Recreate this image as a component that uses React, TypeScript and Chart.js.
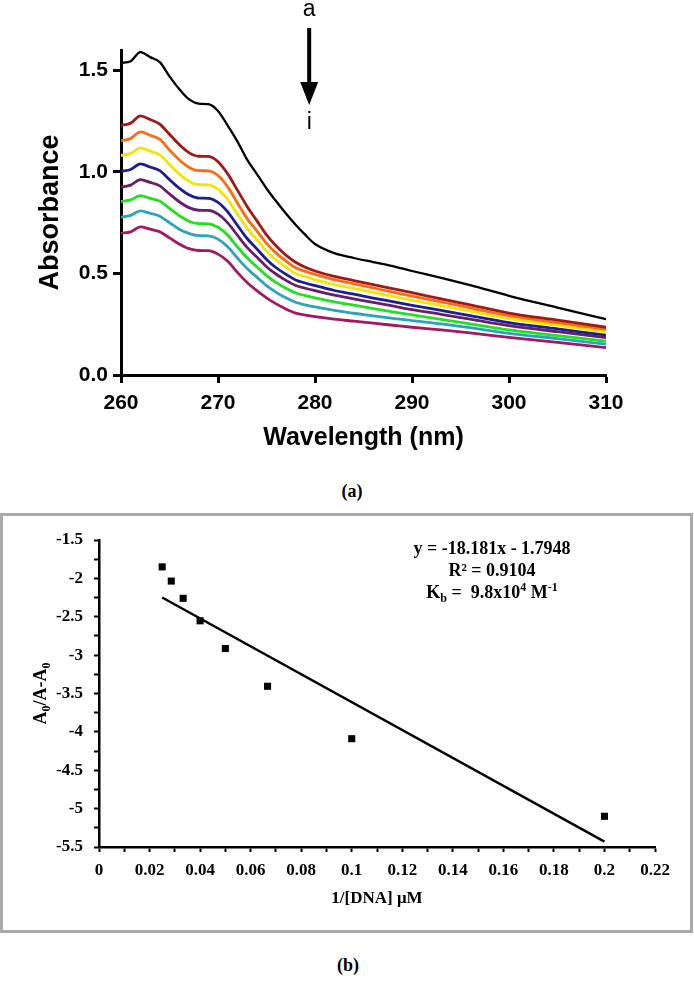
import React, { useEffect, useRef } from "react";
import { Chart, registerables } from "chart.js";
Chart.register(...registerables);

// ---------- Panel (a): UV-Vis spectra ----------
const wavelengths = [260, 261, 262, 263, 264, 265, 266, 267, 268, 269, 270, 271, 272, 273, 274, 275, 276, 277, 278, 279, 280, 282, 284, 286, 288, 290, 293, 296, 300, 305, 310];

const absA = [1.536, 1.545, 1.590, 1.565, 1.540, 1.470, 1.408, 1.358, 1.336, 1.333, 1.300, 1.228, 1.150, 1.060, 0.990, 0.918, 0.855, 0.795, 0.740, 0.690, 0.645, 0.600, 0.576, 0.556, 0.536, 0.512, 0.478, 0.442, 0.390, 0.332, 0.275];
const absB = [1.228, 1.240, 1.276, 1.258, 1.235, 1.185, 1.135, 1.095, 1.077, 1.076, 1.050, 0.990, 0.910, 0.830, 0.760, 0.690, 0.635, 0.590, 0.555, 0.530, 0.512, 0.485, 0.465, 0.445, 0.425, 0.405, 0.375, 0.345, 0.305, 0.270, 0.235];
const absC = [1.153, 1.165, 1.197, 1.180, 1.160, 1.108, 1.060, 1.023, 1.006, 1.005, 0.982, 0.926, 0.847, 0.770, 0.709, 0.648, 0.600, 0.561, 0.528, 0.510, 0.495, 0.469, 0.449, 0.429, 0.408, 0.388, 0.360, 0.331, 0.292, 0.258, 0.225];
const absD = [1.080, 1.091, 1.118, 1.102, 1.084, 1.036, 0.990, 0.954, 0.937, 0.936, 0.914, 0.864, 0.792, 0.722, 0.666, 0.610, 0.566, 0.531, 0.500, 0.484, 0.470, 0.445, 0.426, 0.407, 0.387, 0.368, 0.341, 0.314, 0.277, 0.244, 0.212];
const absE = [1.002, 1.012, 1.039, 1.024, 1.006, 0.962, 0.920, 0.887, 0.871, 0.870, 0.850, 0.803, 0.737, 0.672, 0.621, 0.569, 0.528, 0.496, 0.468, 0.453, 0.440, 0.416, 0.398, 0.379, 0.361, 0.343, 0.318, 0.292, 0.258, 0.227, 0.196];
const absF = [0.925, 0.935, 0.962, 0.948, 0.931, 0.891, 0.853, 0.824, 0.811, 0.810, 0.792, 0.749, 0.688, 0.628, 0.581, 0.533, 0.496, 0.466, 0.441, 0.427, 0.415, 0.393, 0.375, 0.357, 0.340, 0.322, 0.299, 0.275, 0.243, 0.213, 0.184];
const absG = [0.854, 0.862, 0.883, 0.870, 0.856, 0.820, 0.785, 0.757, 0.745, 0.744, 0.727, 0.688, 0.631, 0.577, 0.533, 0.489, 0.455, 0.427, 0.404, 0.391, 0.380, 0.360, 0.344, 0.327, 0.311, 0.296, 0.274, 0.252, 0.222, 0.194, 0.166];
const absH = [0.777, 0.786, 0.808, 0.796, 0.782, 0.750, 0.718, 0.697, 0.686, 0.685, 0.669, 0.631, 0.576, 0.524, 0.482, 0.440, 0.407, 0.380, 0.358, 0.345, 0.335, 0.318, 0.304, 0.291, 0.279, 0.268, 0.252, 0.233, 0.205, 0.179, 0.152];
const absI = [0.698, 0.705, 0.729, 0.718, 0.705, 0.675, 0.645, 0.622, 0.613, 0.612, 0.595, 0.560, 0.505, 0.455, 0.415, 0.380, 0.350, 0.325, 0.305, 0.295, 0.287, 0.275, 0.265, 0.255, 0.245, 0.235, 0.222, 0.207, 0.185, 0.161, 0.135];

const seriesLabelsA = ["a", "b", "c", "d", "e", "f", "g", "h", "i"];
const seriesValuesA = [absA, absB, absC, absD, absE, absF, absG, absH, absI];
const seriesColorsA = ["#000000", "#a01818", "#ff6a10", "#f2e600", "#1c1c96", "#6a1e6a", "#20e020", "#2ba3c0", "#a31860"];

const wlTicksA = [260, 270, 280, 290, 300, 310];
const absTicksA = [0, 0.5, 1.0, 1.5];
const arrowWavelength = 279.4;

// ---------- Panel (b): binding plot ----------
const invDNA = [0.025, 0.0286, 0.0333, 0.04, 0.05, 0.0667, 0.1, 0.2];
const ratioB = [-1.85, -2.035, -2.26, -2.553, -2.914, -3.406, -4.089, -5.10];
const fitX = [0.025, 0.2];
const fitY = [-2.249, -5.431];

const xTicksB = [0, 0.01, 0.02, 0.03, 0.04, 0.05, 0.06, 0.07, 0.08, 0.09, 0.1, 0.11, 0.12, 0.13, 0.14, 0.15, 0.16, 0.17, 0.18, 0.19, 0.2, 0.21, 0.22];
const xLabelsB = [0, 0.02, 0.04, 0.06, 0.08, 0.1, 0.12, 0.14, 0.16, 0.18, 0.2, 0.22];
const yTicksB = [-1.5, -1.75, -2, -2.25, -2.5, -2.75, -3, -3.25, -3.5, -3.75, -4, -4.25, -4.5, -4.75, -5, -5.25, -5.5];
const yLabelsB = [-1.5, -2, -2.5, -3, -3.5, -4, -4.5, -5, -5.5];

const SANS = "'Liberation Sans', Arial, sans-serif";
const SERIF = "'Liberation Serif', 'Times New Roman', serif";

const arrowPlugin = {
  id: "arrowAnn",
  afterDraw(chart: any) {
    const ctx = chart.ctx;
    const x = chart.scales.x.getPixelForValue(arrowWavelength);
    ctx.save();
    ctx.fillStyle = "#000";
    ctx.strokeStyle = "#000";
    ctx.lineWidth = 4;
    ctx.beginPath();
    ctx.moveTo(x, 28);
    ctx.lineTo(x, 86);
    ctx.stroke();
    ctx.beginPath();
    ctx.moveTo(x - 9, 82);
    ctx.lineTo(x + 9, 82);
    ctx.lineTo(x, 105);
    ctx.closePath();
    ctx.fill();
    ctx.font = `23px ${SANS}`;
    ctx.textAlign = "center";
    ctx.textBaseline = "alphabetic";
    ctx.fillText("a", x, 16);
    ctx.fillText("i", x, 129);
    ctx.restore();
  },
};

function drawRuns(ctx: any, runs: { t: string; f: string; dy: number }[], cx: number, cy: number) {
  let total = 0;
  for (const r of runs) {
    ctx.font = r.f;
    total += ctx.measureText(r.t).width;
  }
  let x = cx - total / 2;
  for (const r of runs) {
    ctx.font = r.f;
    ctx.fillText(r.t, x, cy + r.dy);
    x += ctx.measureText(r.t).width;
  }
}

const textPluginB = {
  id: "textB",
  afterDraw(chart: any) {
    const ctx = chart.ctx;
    const big = `bold 18px ${SERIF}`;
    const small = `bold 12px ${SERIF}`;
    ctx.save();
    ctx.fillStyle = "#000";
    ctx.textAlign = "left";
    ctx.textBaseline = "alphabetic";
    const cx = 492;
    drawRuns(ctx, [{ t: "y = -18.181x - 1.7948", f: big, dy: 0 }], cx, 54);
    drawRuns(ctx, [{ t: "R² = 0.9104", f: big, dy: 0 }], cx, 76);
    drawRuns(
      ctx,
      [
        { t: "K", f: big, dy: 0 },
        { t: "b", f: small, dy: 4 },
        { t: " =  9.8x10", f: big, dy: 0 },
        { t: "4", f: small, dy: -7 },
        { t: " M", f: big, dy: 0 },
        { t: "-1", f: small, dy: -7 },
      ],
      cx,
      98
    );
    const y = chart.scales.y;
    const cyMid = (y.top + y.bottom) / 2;
    ctx.translate(40, cyMid);
    ctx.rotate(-Math.PI / 2);
    const yb = `bold 18px ${SERIF}`;
    const ys = `bold 12px ${SERIF}`;
    drawRuns(
      ctx,
      [
        { t: "A", f: yb, dy: 0 },
        { t: "0", f: ys, dy: 4 },
        { t: "/A-A", f: yb, dy: 0 },
        { t: "0", f: ys, dy: 4 },
      ],
      0,
      6
    );
    ctx.restore();
  },
};

function SpectrumChart() {
  const ref = useRef<HTMLCanvasElement>(null);
  useEffect(() => {
    const datasets = seriesValuesA.map((vals, k) => ({
      label: seriesLabelsA[k],
      data: wavelengths.map((w, i) => ({ x: w, y: vals[i] })),
      showLine: true,
      borderColor: seriesColorsA[k],
      backgroundColor: seriesColorsA[k],
      borderWidth: k === 0 ? 2.3 : 2.8,
      pointRadius: 0,
      cubicInterpolationMode: "monotone" as const,
    }));
    const chart = new Chart(ref.current!, {
      type: "scatter",
      data: { datasets },
      options: {
        responsive: false,
        animation: false,
        devicePixelRatio: 1,
        layout: { padding: { left: 0, right: 88, top: 50, bottom: 0 } },
        plugins: { legend: { display: false }, tooltip: { enabled: false } },
        scales: {
          x: {
            type: "linear",
            min: 260,
            max: 310,
            afterFit: (s: any) => {
              s.height = 95;
            },
            afterBuildTicks: (s: any) => {
              s.ticks = wlTicksA.map((v) => ({ value: v }));
            },
            grid: { display: true, drawOnChartArea: false, drawTicks: true, tickLength: 8, tickWidth: 3, tickColor: "#000" },
            border: { display: true, width: 3, color: "#000" },
            ticks: { color: "#000", padding: 8, font: { family: SANS, size: 21, weight: "bold" }, callback: (v: any) => String(v) },
            title: { display: true, text: "Wavelength (nm)", color: "#000", font: { family: SANS, size: 25, weight: "bold" }, padding: { top: 0, bottom: 17 } },
          },
          y: {
            type: "linear",
            min: 0,
            max: 1.6,
            afterFit: (s: any) => {
              s.width = 121;
            },
            afterBuildTicks: (s: any) => {
              s.ticks = absTicksA.map((v) => ({ value: v }));
            },
            grid: { display: true, drawOnChartArea: false, drawTicks: true, tickLength: 8, tickWidth: 3, tickColor: "#000" },
            border: { display: true, width: 3, color: "#000" },
            ticks: { color: "#000", padding: 5, font: { family: SANS, size: 21, weight: "bold" }, callback: (v: any) => Number(v).toFixed(1) },
            title: { display: true, text: "Absorbance", color: "#000", font: { family: SANS, size: 27, weight: "bold" }, padding: { top: 34, bottom: 0 } },
          },
        },
      },
      plugins: [arrowPlugin],
    });
    return () => chart.destroy();
  }, []);
  return <canvas ref={ref} width={694} height={470} style={{ position: "absolute", left: 0, top: 0 }} />;
}

function BindingChart() {
  const ref = useRef<HTMLCanvasElement>(null);
  useEffect(() => {
    const isIn = (arr: number[], v: number) => arr.some((a) => Math.abs(a - v) < 1e-9);
    const chart = new Chart(ref.current!, {
      type: "scatter",
      data: {
        datasets: [
          {
            label: "points",
            data: invDNA.map((x, i) => ({ x, y: ratioB[i] })),
            pointStyle: "rect",
            pointRadius: 5,
            pointBorderWidth: 0,
            backgroundColor: "#000",
            borderColor: "#000",
            showLine: false,
          },
          {
            label: "fit",
            data: fitX.map((x, i) => ({ x, y: fitY[i] })),
            showLine: true,
            pointRadius: 0,
            borderColor: "#000",
            borderWidth: 2.5,
          },
        ],
      },
      options: {
        responsive: false,
        animation: false,
        devicePixelRatio: 1,
        layout: { padding: { left: 0, right: 39, top: 40, bottom: 0 } },
        plugins: { legend: { display: false }, tooltip: { enabled: false } },
        scales: {
          x: {
            type: "linear",
            min: 0,
            max: 0.22,
            afterFit: (s: any) => {
              s.height = 103;
            },
            afterBuildTicks: (s: any) => {
              s.ticks = xTicksB.map((v) => ({ value: v }));
            },
            grid: { display: true, drawOnChartArea: false, drawTicks: true, tickLength: 5, tickWidth: 2, tickColor: "#000" },
            border: { display: true, width: 2.5, color: "#000" },
            ticks: {
              autoSkip: false,
              maxRotation: 0,
              color: "#000",
              padding: 8,
              font: { family: SERIF, size: 17, weight: "bold" },
              callback: (v: any) => (isIn(xLabelsB, Number(v)) ? String(Number(Number(v).toFixed(2))) : ""),
            },
            title: { display: true, text: "1/[DNA] μM", color: "#000", font: { family: SERIF, size: 17, weight: "bold" }, padding: { top: 0, bottom: 41 } },
          },
          y: {
            type: "linear",
            min: -5.5,
            max: -1.5,
            afterFit: (s: any) => {
              s.width = 99;
            },
            afterBuildTicks: (s: any) => {
              s.ticks = yTicksB.map((v) => ({ value: v }));
            },
            grid: { display: true, drawOnChartArea: false, drawTicks: true, tickLength: 5, tickWidth: 2, tickColor: "#000" },
            border: { display: true, width: 2.5, color: "#000" },
            ticks: {
              autoSkip: false,
              color: "#000",
              padding: 11,
              font: { family: SERIF, size: 17, weight: "bold" },
              callback: (v: any) => (isIn(yLabelsB, Number(v)) ? String(Number(Number(v).toFixed(2))) : ""),
            },
            title: { display: false },
          },
        },
      },
      plugins: [textPluginB],
    });
    return () => chart.destroy();
  }, []);
  return <canvas ref={ref} width={694} height={450} style={{ position: "absolute", left: 0, top: 500 }} />;
}

export default function App() {
  const caption: React.CSSProperties = {
    position: "absolute",
    left: 0,
    width: 694,
    textAlign: "center",
    fontFamily: SERIF,
    fontWeight: "bold",
    fontSize: 18,
    lineHeight: "20px",
    color: "#000",
  };
  return (
    <div style={{ position: "absolute", left: 0, top: 0, width: 694, height: 983, background: "#fff", overflow: "hidden" }}>
      <SpectrumChart />
      <div style={{ ...caption, top: 481, left: 5 }}>(a)</div>
      <BindingChart />
      <div
        style={{
          position: "absolute",
          left: 0,
          top: 513,
          width: 693,
          height: 420,
          boxSizing: "border-box",
          border: "3px solid #a9a9a9",
          pointerEvents: "none",
        }}
      />
      <div style={{ ...caption, top: 955, left: 1 }}>(b)</div>
    </div>
  );
}
